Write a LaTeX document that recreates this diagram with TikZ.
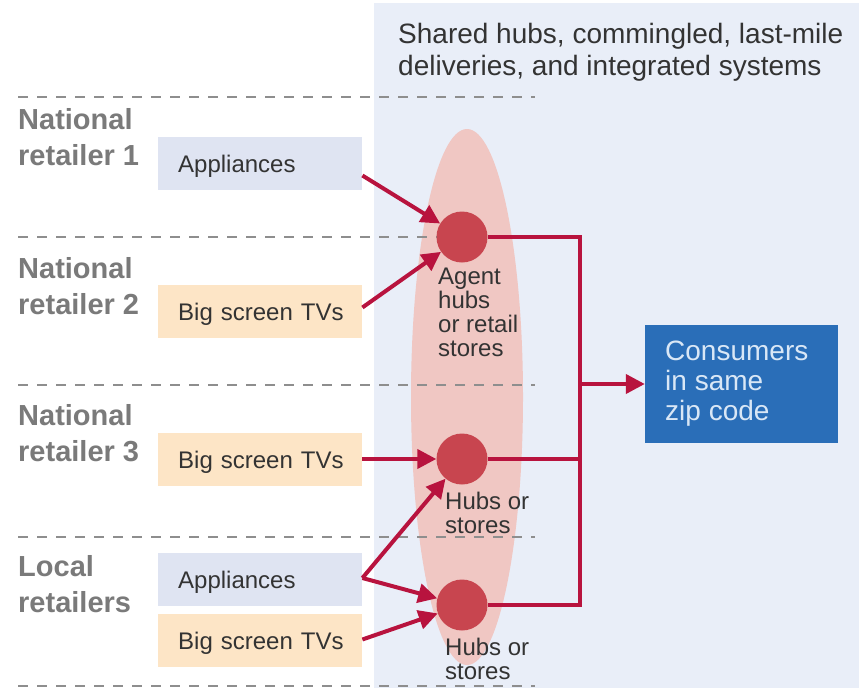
\documentclass[tikz,border=0pt]{standalone}
\usepackage{fontspec}
\setmainfont{Liberation Sans}
\usetikzlibrary{arrows.meta,calc}

\definecolor{panelbg}{HTML}{E9EEF8}
\definecolor{lavender}{HTML}{DFE4F2}
\definecolor{peach}{HTML}{FDE5C6}
\definecolor{halo}{HTML}{F0C7C3}
\definecolor{hubred}{HTML}{C8454F}
\definecolor{crimson}{HTML}{B8133E}
\definecolor{consblue}{HTML}{2A6EB8}
\definecolor{constext}{HTML}{D9E7F6}
\definecolor{rowgray}{HTML}{7A7A7A}
\definecolor{dashgray}{HTML}{8E8E8E}
\definecolor{ink}{HTML}{333333}

\tikzset{
  divider/.style={draw=dashgray, line width=1.4pt, dash pattern=on 10pt off 9pt},
  rowlabel/.style={anchor=north west, inner sep=0pt, align=left, text=rowgray,
    font=\fontsize{29}{36}\selectfont\bfseries},
  product/.style={anchor=west, minimum height=53pt, text width=204pt, inner xsep=0pt,
    inner ysep=0pt, align=left, text=ink, text height=18pt, text depth=0pt,
    font=\fontsize{24}{30}\selectfont, execute at begin node={\hspace*{20pt}}},
  hub/.style={circle, fill=hubred, minimum size=51pt, inner sep=0pt},
  hublabel/.style={anchor=north west, inner sep=0pt, align=left, text=ink,
    font=\fontsize{24}{24}\selectfont},
  feed/.style={draw=crimson, line width=4pt, -{Triangle[length=19pt,width=19pt]}},
  link/.style={draw=crimson, line width=4pt, line join=miter},
}

\begin{document}
\begin{tikzpicture}[x=1pt,y=-1pt]
  \useasboundingbox (0,0) rectangle (861,688);
  \fill[white] (0,0) rectangle (861,688);

  % shared-network panel and its caption
  \fill[panelbg] (374,3) rectangle (859,688);
  \node[anchor=north west, inner sep=0pt, align=left, text=ink,
        font=\fontsize{28}{32}\selectfont] (caption) at (398,23)
        {Shared hubs, commingled, last-mile\\deliveries, and integrated systems};

  % halo around the shared hubs
  \fill[halo] (467,397) ellipse [x radius=56, y radius=268];

  % row dividers
  \foreach \yy in {97,237,385,537,686}
    \draw[divider] (18,\yy) -- (535,\yy);

  % retailers
  \node[rowlabel] (r1) at (18,108) {National\\retailer 1};
  \node[rowlabel] (r2) at (18,257) {National\\retailer 2};
  \node[rowlabel] (r3) at (18,404) {National\\retailer 3};
  \node[rowlabel] (r4) at (18,555) {Local\\retailers};

  % product lines
  \node[product, fill=lavender] (b1) at (158,163.5) {Appliances};
  \node[product, fill=peach]    (b2) at (158,311.5) {Big screen TVs};
  \node[product, fill=peach]    (b3) at (158,459)   {Big screen TVs};
  \node[product, fill=lavender] (b4) at (158,579)   {Appliances};
  \node[product, fill=peach]    (b5) at (158,640.5) {Big screen TVs};

  % hubs
  \node[hub] (h1) at (462,237) {};
  \node[hub] (h2) at (462,459) {};
  \node[hub] (h3) at (462,605) {};
  \node[hublabel] (l1) at (438,268) {Agent\\hubs\\or retail\\stores};
  \node[hublabel] (l2) at (445,492) {Hubs or\\stores};
  \node[hublabel] (l3) at (445,638) {Hubs or\\stores};

  % consumers
  \node[fill=consblue, minimum width=193pt, minimum height=118pt, inner sep=0pt]
       (cons) at (741.5,384) {};
  \node[anchor=north west, inner sep=0pt, align=left, text=constext,
        font=\fontsize{28}{30}\selectfont] (constxt) at (665,341)
        {Consumers\\in same\\zip code};

  % product flows into the hubs
  \draw[feed] ($(b1.east)+(0,12)$) -- (h1);
  \draw[feed] ($(b2.east)+(0,-4)$) -- (h1);
  \draw[feed] (b3.east) -- (h2.west);
  \draw[feed] ($(b4.east)+(0,-1)$) -- (h2);
  \draw[feed] ($(b4.east)+(0,-1)$) -- (h3);
  \draw[feed] ($(b5.east)+(0,-1)$) -- (h3);

  % hubs feeding the consumers
  \coordinate (bt) at (580,237);
  \coordinate (bb) at (580,605);
  \draw[link] (h1.east) -- (bt) -- (bb) -- (h3.east);
  \draw[link] (h2.east) -- (h2.east -| bt);
  \draw[feed] (bt |- cons.west) -- (cons.west);
\end{tikzpicture}
\end{document}
